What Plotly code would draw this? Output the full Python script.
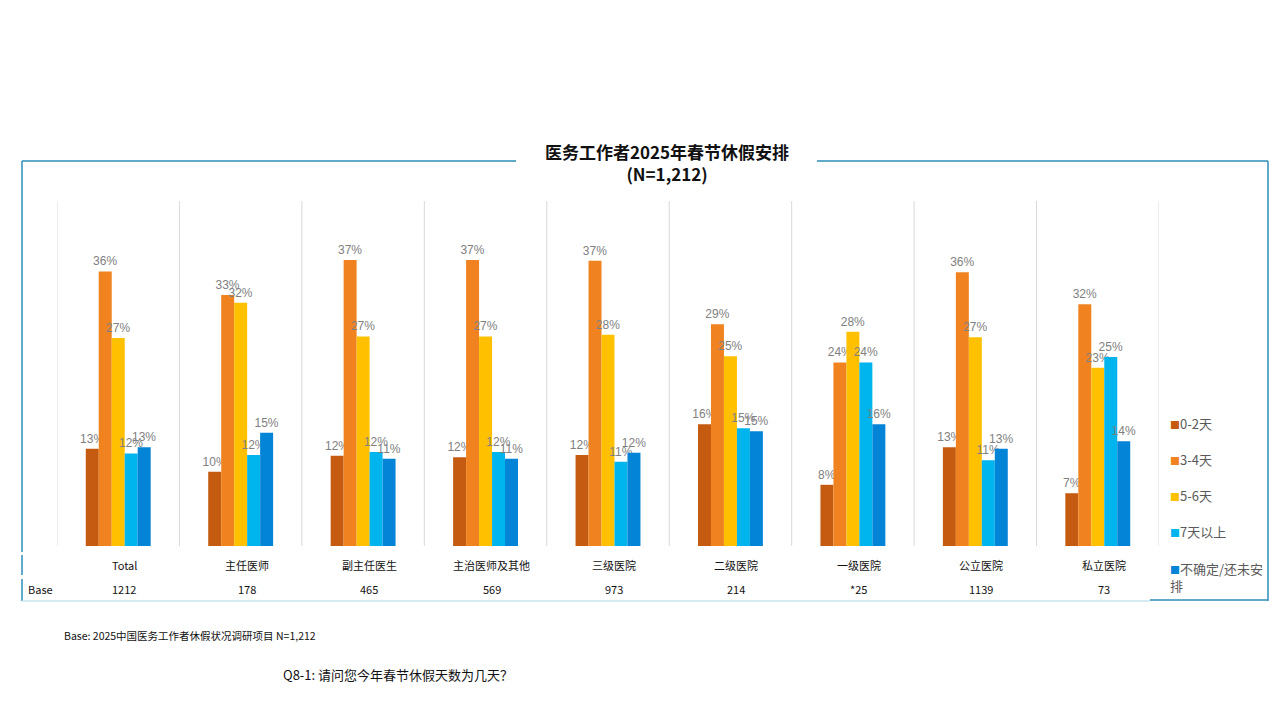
import plotly.graph_objects as go

categories = ["Total", "主任医师", "副主任医生", "主治医师及其他", "三级医院", "二级医院", "一级医院", "公立医院", "私立医院"]
bases = ["1212", "178", "465", "569", "973", "214", "*25", "1139", "73"]
series_names = ["0-2天", "3-4天", "5-6天", "7天以上", "不确定/还未安排"]
legend_labels = ["0-2天", "3-4天", "5-6天", "7天以上", "不确定/还未安<br>排"]
colors = ["#C55A11", "#F0831F", "#FFC000", "#00B4EE", "#0484D6"]

v_0_2 = [12.7, 9.7, 11.8, 11.6, 11.9, 15.9, 8.0, 12.9, 6.9]
v_3_4 = [35.9, 32.8, 37.4, 37.4, 37.3, 29.0, 24.0, 35.8, 31.6]
v_5_6 = [27.2, 31.8, 27.4, 27.4, 27.6, 24.8, 28.0, 27.3, 23.3]
v_7p = [12.1, 11.9, 12.3, 12.3, 11.0, 15.4, 24.0, 11.2, 24.7]
v_uns = [12.9, 14.8, 11.4, 11.4, 12.2, 15.0, 15.9, 12.7, 13.7]
series_values = [v_0_2, v_3_4, v_5_6, v_7p, v_uns]

# page offset (body margin) and plot area in window pixels
OFF = 8
L, R, T, B = 57, 1159, 201, 546
W, H = 1280 - OFF, 720 - OFF


def px(X):
    return (X - L) / (R - L)


def py(Y):
    return (B - Y) / (B - T)


fig = go.Figure()
for name, vals, col in zip(series_names, series_values, colors):
    fig.add_trace(go.Bar(
        x=categories, y=vals, name=name, marker_color=col,
        marker_line_width=0,
        text=[f"{round(v):d}%" for v in vals],
        textposition="outside",
        constraintext="none",
        textfont=dict(color="#808080", size=12, family="Liberation Sans, Arial, sans-serif"),
        cliponaxis=False,
        showlegend=False,
    ))

shapes = []
# category separators
for i in range(len(categories) + 1):
    shapes.append(dict(type="line", xref="x", yref="y domain", x0=i - 0.5, x1=i - 0.5,
                       y0=0, y1=1, line=dict(color="#D9D9D9", width=1)))

border = "#2A8DBA"
light = "#C9E4EF"
# top border with gap for title
shapes.append(dict(type="line", xref="paper", yref="paper", x0=px(22), x1=px(516), y0=py(161), y1=py(161), line=dict(color=border, width=1.5)))
shapes.append(dict(type="line", xref="paper", yref="paper", x0=px(817), x1=px(1268), y0=py(161), y1=py(161), line=dict(color=border, width=1.5)))
# right border
shapes.append(dict(type="line", xref="paper", yref="paper", x0=px(1268), x1=px(1268), y0=py(161), y1=py(601), line=dict(color=border, width=1.5)))
# left border segments
for y0, y1 in [(161, 552), (555, 575), (579, 601)]:
    shapes.append(dict(type="line", xref="paper", yref="paper", x0=px(22), x1=px(22), y0=py(y0), y1=py(y1), line=dict(color=border, width=1.5)))
# bottom border
shapes.append(dict(type="line", xref="paper", yref="paper", x0=px(22), x1=px(1150), y0=py(601), y1=py(601), line=dict(color=light, width=1.5)))
shapes.append(dict(type="line", xref="paper", yref="paper", x0=px(1150), x1=px(1268), y0=py(600), y1=py(600), line=dict(color=border, width=1.5)))

annotations = []
cjk = "Noto Sans CJK SC, Liberation Sans, sans-serif"
# title
annotations.append(dict(xref="paper", yref="paper", x=px(667), y=py(162), xanchor="center", yanchor="middle",
                        text="<b>医务工作者2025年春节休假安排</b><br><b>(N=1,212)</b>", showarrow=False,
                        font=dict(size=17, color="#111111", family=cjk)))
# category labels and base row
for c, b in zip(categories, bases):
    annotations.append(dict(xref="x", yref="paper", x=c, y=py(565), xshift=6, text=c, showarrow=False,
                            xanchor="center", yanchor="middle", font=dict(size=11, color="#111111", family=cjk)))
    annotations.append(dict(xref="x", yref="paper", x=c, y=py(589), xshift=6, text=b, showarrow=False,
                            xanchor="center", yanchor="middle", font=dict(size=11, color="#111111", family=cjk)))
annotations.append(dict(xref="paper", yref="paper", x=px(26), y=py(589), text="Base", showarrow=False,
                        xanchor="left", yanchor="middle", font=dict(size=11, color="#111111", family=cjk)))
# legend
for i, (lab, col) in enumerate(zip(legend_labels, colors)):
    annotations.append(dict(xref="paper", yref="paper", x=px(1168), y=py(423 + 36.3 * i), yanchor="top" if "<br>" in lab else "middle",
                            yshift=11 if "<br>" in lab else 0,
                            text=f"<span style='color:{col};font-size:10px'>■</span>{lab}", showarrow=False,
                            xanchor="left", align="left", font=dict(size=13, color="#595959", family=cjk)))
# footnotes
annotations.append(dict(xref="paper", yref="paper", x=px(62), y=py(635), text="Base: 2025中国医务工作者休假状况调研项目 N=1,212",
                        showarrow=False, xanchor="left", yanchor="middle", font=dict(size=10.5, color="#111111", family=cjk)))
annotations.append(dict(xref="paper", yref="paper", x=px(281), y=py(674), text="Q8-1: 请问您今年春节休假天数为几天？",
                        showarrow=False, xanchor="left", yanchor="middle", font=dict(size=13, color="#111111", family=cjk)))

fig.update_layout(
    width=W, height=H,
    margin=dict(l=L - OFF, r=W - (R - OFF), t=T - OFF, b=H - (B - OFF), pad=0),
    paper_bgcolor="white", plot_bgcolor="white",
    barmode="group", bargap=0.47, bargroupgap=0,
    xaxis=dict(showticklabels=False, showgrid=False, zeroline=False, showline=False, ticks="",
               range=[-0.5, len(categories) - 0.5]),
    yaxis=dict(visible=False, range=[0, 45.1]),
    shapes=shapes, annotations=annotations,
    showlegend=False,
)

fig.write_html("out.html")
